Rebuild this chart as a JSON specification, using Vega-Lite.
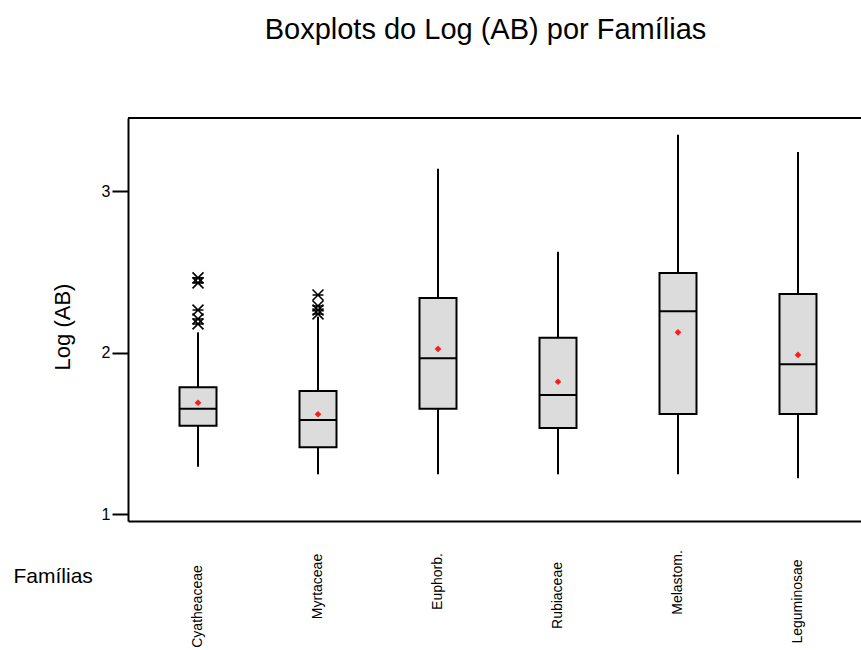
{
  "$schema": "https://vega.github.io/schema/vega-lite/v6.json",
  "width": 733,
  "height": 403,
  "autosize": {"type": "none"},
  "padding": {"left": 128, "top": 118, "right": 0, "bottom": 129},
  "background": "white",
  "config": {"view": {"stroke": null}, "font": "Liberation Sans"},
  "title": {
    "text": "Boxplots do Log (AB) por Famílias",
    "fontSize": 29,
    "fontWeight": "normal",
    "font": "Liberation Sans",
    "color": "black",
    "anchor": "middle",
    "frame": "group",
    "baseline": "alphabetic",
    "offset": 49,
    "dx": -9
  },
  "datasets": {
    "summary": [
      {"familia": "Cyatheaceae", "lower": 1.294, "q1": 1.548, "median": 1.653, "q3": 1.786, "upper": 2.126, "mean": 1.690},
      {"familia": "Myrtaceae", "lower": 1.247, "q1": 1.414, "median": 1.583, "q3": 1.763, "upper": 2.223, "mean": 1.619},
      {"familia": "Euphorb.", "lower": 1.247, "q1": 1.653, "median": 1.965, "q3": 2.339, "upper": 3.139, "mean": 2.023},
      {"familia": "Rubiaceae", "lower": 1.247, "q1": 1.534, "median": 1.738, "q3": 2.093, "upper": 2.625, "mean": 1.820},
      {"familia": "Melastom.", "lower": 1.247, "q1": 1.620, "median": 2.256, "q3": 2.494, "upper": 3.350, "mean": 2.126},
      {"familia": "Leguminosae", "lower": 1.222, "q1": 1.620, "median": 1.928, "q3": 2.363, "upper": 3.243, "mean": 1.986}
    ],
    "outliers": [
      {"familia": "Cyatheaceae", "valor": 2.463},
      {"familia": "Cyatheaceae", "valor": 2.432},
      {"familia": "Cyatheaceae", "valor": 2.264},
      {"familia": "Cyatheaceae", "valor": 2.209},
      {"familia": "Cyatheaceae", "valor": 2.178},
      {"familia": "Myrtaceae", "valor": 2.357},
      {"familia": "Myrtaceae", "valor": 2.289},
      {"familia": "Myrtaceae", "valor": 2.264},
      {"familia": "Myrtaceae", "valor": 2.240}
    ],
    "borda": [{"lado": "topo", "valor": 3.453}]
  },
  "layer": [
    {
      "data": {"name": "summary"},
      "mark": {"type": "rule", "color": "black", "strokeWidth": 2},
      "encoding": {
        "x": {
          "field": "familia",
          "type": "nominal",
          "sort": null,
          "scale": {"type": "band", "domain": ["Cyatheaceae", "Myrtaceae", "Euphorb.", "Rubiaceae", "Melastom.", "Leguminosae"], "paddingInner": 0, "paddingOuter": 0.0542, "align": 0.769},
          "axis": {
            "title": "Famílias",
            "titleFont": "Liberation Sans",
            "titleFontSize": 21,
            "titleFontWeight": "normal",
            "titleColor": "black",
            "titleAngle": 0,
            "titleAlign": "left",
            "titleAnchor": "start",
            "titleBaseline": "alphabetic",
            "titleX": -115,
            "titleY": 61,
            "labelAngle": 270,
            "labelAlign": "center",
            "labelBaseline": "middle",
            "labelPadding": {
              "condition": [
                {"test": "datum.value === 'Cyatheaceae'", "value": 85},
                {"test": "datum.value === 'Myrtaceae'", "value": 65},
                {"test": "datum.value === 'Euphorb.'", "value": 60},
                {"test": "datum.value === 'Rubiaceae'", "value": 74},
                {"test": "datum.value === 'Melastom.'", "value": 61},
                {"test": "datum.value === 'Leguminosae'", "value": 80}
              ],
              "value": 71
            },
            "labelFontSize": 14,
            "labelFont": "Liberation Sans",
            "labelColor": "black",
            "labelOverlap": false,
            "labelLimit": 0,
            "ticks": false,
            "tickSize": 0,
            "domainColor": "black",
            "domainWidth": 2
          }
        },
        "y": {
          "field": "lower",
          "type": "quantitative",
          "scale": {"domain": [0.958, 3.453], "nice": false, "zero": false},
          "axis": {
            "title": "Log (AB)",
            "values": [1, 2, 3],
            "format": "d",
            "tickSize": 16,
            "tickWidth": 2,
            "tickColor": "black",
            "domainColor": "black",
            "domainWidth": 2,
            "labelFontSize": 16,
            "labelFont": "Liberation Sans",
            "labelColor": "black",
            "labelPadding": 2,
            "grid": false,
            "titleFont": "Liberation Sans",
            "titleFontSize": 22,
            "titleFontWeight": "normal",
            "titleColor": "black",
            "titleAngle": 270,
            "titleBaseline": "alphabetic",
            "titleAlign": "center",
            "titleX": -59,
            "titleY": 208.5
          }
        },
        "y2": {"field": "upper"}
      }
    },
    {
      "data": {"name": "summary"},
      "mark": {"type": "bar", "fill": "#dcdcdc", "stroke": "black", "strokeWidth": 2, "width": 37, "opacity": 1},
      "encoding": {
        "x": {"field": "familia", "type": "nominal", "sort": null},
        "y": {"field": "q1", "type": "quantitative"},
        "y2": {"field": "q3"}
      }
    },
    {
      "data": {"name": "summary"},
      "mark": {"type": "tick", "color": "black", "size": 37, "thickness": 2, "opacity": 1},
      "encoding": {
        "x": {"field": "familia", "type": "nominal", "sort": null},
        "y": {"field": "median", "type": "quantitative"}
      }
    },
    {
      "data": {"name": "summary"},
      "mark": {"type": "point", "shape": "diamond", "filled": true, "color": "#ff1a1a", "size": 45, "opacity": 1},
      "encoding": {
        "x": {"field": "familia", "type": "nominal", "sort": null},
        "y": {"field": "mean", "type": "quantitative"}
      }
    },
    {
      "data": {"name": "outliers"},
      "mark": {"type": "point", "shape": "M-1,-1L1,1M-1,1L1,-1M-1,0L1,0", "filled": false, "stroke": "black", "strokeWidth": 1.6, "size": 120, "opacity": 1},
      "encoding": {
        "x": {"field": "familia", "type": "nominal", "sort": null},
        "y": {"field": "valor", "type": "quantitative"}
      }
    },
    {
      "data": {"name": "borda"},
      "mark": {"type": "rule", "color": "black", "strokeWidth": 2},
      "encoding": {
        "y": {"field": "valor", "type": "quantitative"}
      }
    }
  ]
}
